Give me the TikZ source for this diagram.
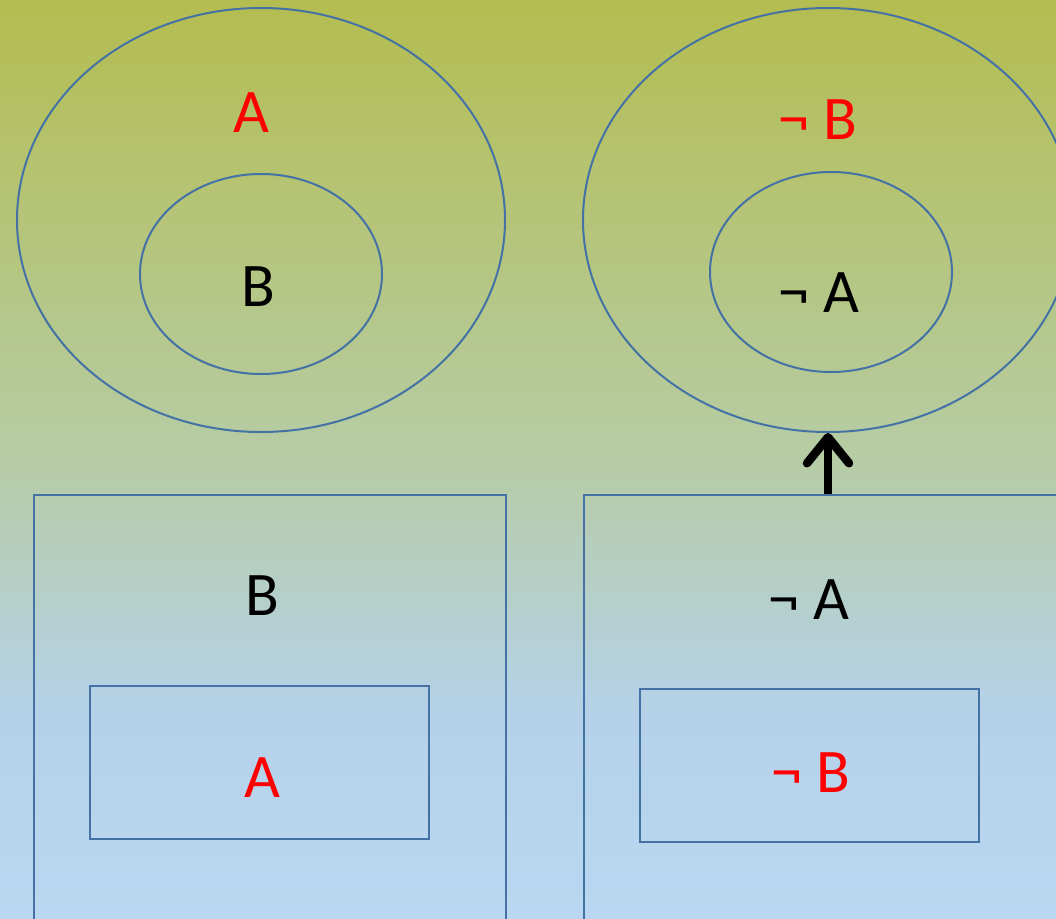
\documentclass[tikz,border=0pt]{standalone}
\usepackage{fontspec}
\setmainfont{Carlito}
\usetikzlibrary{shapes.geometric,arrows.meta}
\definecolor{topc}{RGB}{180,189,80}
\definecolor{upc}{RGB}{182,196,122}
\definecolor{midc}{RGB}{182,204,165}
\definecolor{blc}{RGB}{181,210,234}
\definecolor{botc}{RGB}{185,215,240}
\definecolor{lineblue}{RGB}{68,114,164}
\definecolor{myred}{RGB}{255,0,0}
\pgfdeclareverticalshading{bgshade}{100bp}{color(0bp)=(botc); color(25bp)=(botc); color(36bp)=(blc); color(50bp)=(midc); color(75bp)=(topc); color(100bp)=(topc)}
\tikzset{
  shape line/.style={draw=lineblue, line width=2pt, inner sep=0pt},
  ell/.style={shape line, ellipse},
  box/.style={shape line, rectangle},
  lbl/.style={font=\fontsize{62}{70}\selectfont, inner sep=0pt},
  redlbl/.style={lbl, text=myred},
  blacklbl/.style={lbl, text=black},
  bigarrow/.style={line width=8.5pt, -{Straight Barb[length=26pt, width=42pt, line cap=round, line join=round]}}
}
\begin{document}
\begin{tikzpicture}[x=1pt,y=-1pt]
\useasboundingbox (0,0) rectangle (1056,918);
\clip (0,0) rectangle (1056,918);
\shade[shading=bgshade] (0,0) rectangle (1056,918);
% ellipses
\node[ell, minimum width=488, minimum height=424] (e1) at (261,220) {};
\node[ell, minimum width=242, minimum height=200] (e1i) at (261,274) {};
\node[ell, minimum width=490, minimum height=424] (e2) at (828,220) {};
\node[ell, minimum width=242, minimum height=200] (e2i) at (831,272) {};
% labels in ellipses
\node[redlbl] (la1) at (251,113) {A};
\node[blacklbl] (lb1) at (258,287) {B};
\node[redlbl] (lnb1) at (818,120) {¬ B};
\node[blacklbl] (lna1) at (819,293) {¬ A};
% rectangles
\node[box, minimum width=472, minimum height=446, anchor=north west] (r1) at (33,494) {};
\node[box, minimum width=339, minimum height=153, anchor=north west] (r1i) at (89,685) {};
\node[box, minimum width=520, minimum height=446, anchor=north west] (r2) at (583,494) {};
\node[box, minimum width=339, minimum height=153, anchor=north west] (r2i) at (639,688) {};
% labels in rectangles
\node[blacklbl] (lb2) at (262,596) {B};
\node[redlbl] (la2) at (262,778) {A};
\node[blacklbl] (lna2) at (809,600) {¬ A};
\node[redlbl] (lnb2) at (811,773) {¬ B};
% arrow
\draw[bigarrow] (e2.south |- r2.north) -- (e2.south);
\end{tikzpicture}
\end{document}
